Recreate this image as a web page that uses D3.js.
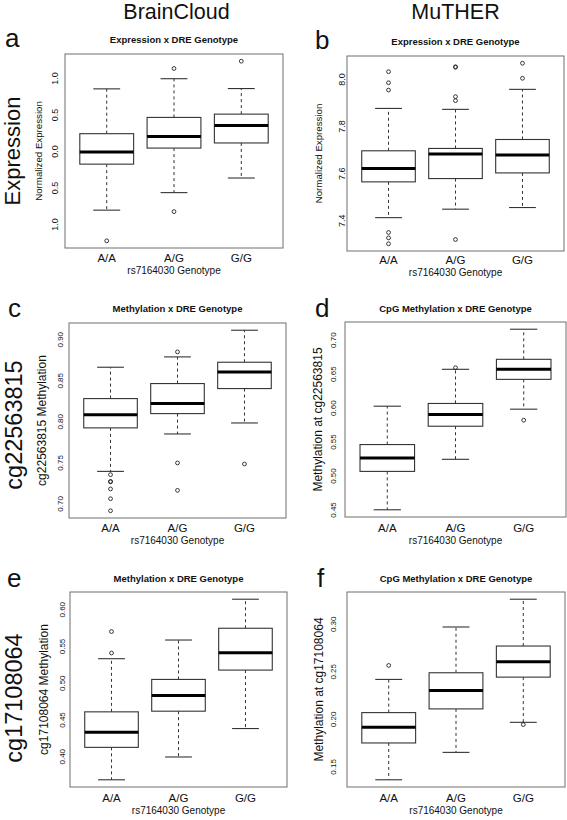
<!DOCTYPE html>
<html><head><meta charset="utf-8">
<script src="https://cdn.jsdelivr.net/npm/d3@7"></script>
<style>
body{margin:0;background:#fff}
svg{display:block}
text{font-family:"Liberation Sans",Arial,Helvetica,sans-serif;fill:#111}
</style>
</head><body>
<svg id="chart" width="567" height="820"></svg>
<script>
// ---------------- DATA ----------------
const categories = ["A/A", "A/G", "G/G"];
const columnHeaders = ["BrainCloud", "MuTHER"];
const rowHeaders = ["Expression", "cg22563815", "cg17108064"];
const panelLetters = ["a", "b", "c", "d", "e", "f"];
const panelTitles = ["Expression x DRE Genotype", "Expression x DRE Genotype",
  "Methylation x DRE Genotype", "CpG Methylation x DRE Genotype",
  "Methylation x DRE Genotype", "CpG Methylation x DRE Genotype"];
const yLabels = ["Normalized Expression", "Normalized Expression",
  "cg22563815 Methylation", "Methylation at cg22563815",
  "cg17108064 Methylation", "Methylation at cg17108064"];
const xLabel = "rs7164030 Genotype";

// box stats per genotype: [lower whisker, Q1, median, Q3, upper whisker]
const statsA = [[-0.81, -0.18, -0.014, 0.237, 0.851], [-0.57, 0.04, 0.20, 0.46, 0.99], [-0.37, 0.11, 0.35, 0.505, 0.855]];
const outliersA = [[-1.23], [1.13, -0.83], [1.23]];
const statsB = [[7.411, 7.563, 7.62, 7.695, 7.875], [7.447, 7.577, 7.681, 7.705, 7.871], [7.454, 7.601, 7.677, 7.743, 7.956]];
const outliersB = [[8.031, 7.984, 7.953, 7.348, 7.325, 7.30], [8.052, 8.050, 7.925, 7.908, 7.318], [8.067, 8.003]];
const statsC = [[0.739, 0.792, 0.808, 0.8277, 0.8659], [0.7846, 0.8094, 0.8216, 0.846, 0.8785], [0.798, 0.8399, 0.8602, 0.872, 0.911]];
const outliersC = [[0.735, 0.7268, 0.7262, 0.7176, 0.7057, 0.691], [0.8846, 0.7493, 0.7159], [0.748]];
const statsD = [[0.4496, 0.5061, 0.5258, 0.5456, 0.6021], [0.5239, 0.5726, 0.5899, 0.6061, 0.6564], [0.5977, 0.6416, 0.6564, 0.6711, 0.7154]];
const outliersD = [[], [0.6587], [0.5815]];
const statsE = [[0.368, 0.4121, 0.4326, 0.4604, 0.5327], [0.399, 0.4613, 0.4827, 0.5045, 0.5581], [0.4377, 0.5172, 0.5409, 0.5741, 0.6136]];
const outliersE = [[0.5696, 0.5404], [], []];
const statsF = [[0.136, 0.1747, 0.1911, 0.2066, 0.2415], [0.1648, 0.2105, 0.2299, 0.2485, 0.2966], [0.1964, 0.2439, 0.2601, 0.2766, 0.3258]];
const outliersF = [[0.2562], [], [0.194]];

// y tick values and their labels as printed in the figure
const ticksA = [-1, -0.5, 0, 0.5, 1];
const tickLabelsA = ["1.0", "0.5", "0.0", "0.5", "1.0"];
const ticksB = [7.4, 7.6, 7.8, 8.0];
const tickLabelsB = ["7.4", "7.6", "7.8", "8.0"];
const ticksC = [0.70, 0.75, 0.80, 0.85, 0.90];
const tickLabelsC = ["0.70", "0.75", "0.80", "0.85", "0.90"];
const ticksD = [0.45, 0.50, 0.55, 0.60, 0.65, 0.70];
const tickLabelsD = ["0.45", "0.50", "0.55", "0.60", "0.65", "0.70"];
const ticksE = [0.40, 0.45, 0.50, 0.55, 0.60];
const tickLabelsE = ["0.40", "0.45", "0.50", "0.55", "0.60"];
const ticksF = [0.15, 0.20, 0.25, 0.30];
const tickLabelsF = ["0.15", "0.20", "0.25", "0.30"];

// ---------------- LAYOUT ----------------
const layouts = [
  {L: 65, R: 283, T: 54, B: 248, titleY: 42.5, tickX: 55, ylabX: 39, catY: 261.5, xlabY: 273.5, letX: 5, letY: 46.5, tickFs: 9, ylabFs: 9.7},
  {L: 347, R: 564, T: 56, B: 251, titleY: 44.5, tickX: 341.5, ylabX: 319, catY: 263.5, xlabY: 275.5, letX: 315, letY: 49, tickFs: 9, ylabFs: 9.7},
  {L: 69, R: 286, T: 323, B: 518, titleY: 312, tickX: 60, ylabX: 42, catY: 531.5, xlabY: 543.5, letX: 8, letY: 316.7, tickFs: 8, ylabFs: 12},
  {L: 345, R: 566, T: 322, B: 517, titleY: 311.5, tickX: 333, ylabX: 318, catY: 531.5, xlabY: 543.5, letX: 315, letY: 316.7, tickFs: 8, ylabFs: 12},
  {L: 70, R: 287, T: 592, B: 787, titleY: 582, tickX: 61.7, ylabX: 44, catY: 801.5, xlabY: 813.5, letX: 7, letY: 586.7, tickFs: 8, ylabFs: 12},
  {L: 347, R: 565, T: 592, B: 787, titleY: 581.5, tickX: 333.5, ylabX: 318.3, catY: 801.5, xlabY: 813.5, letX: 317, letY: 586.7, tickFs: 8, ylabFs: 12}
];

const panels = [
  {stats: statsA, outliers: outliersA, ticks: ticksA, tickLabels: tickLabelsA},
  {stats: statsB, outliers: outliersB, ticks: ticksB, tickLabels: tickLabelsB},
  {stats: statsC, outliers: outliersC, ticks: ticksC, tickLabels: tickLabelsC},
  {stats: statsD, outliers: outliersD, ticks: ticksD, tickLabels: tickLabelsD},
  {stats: statsE, outliers: outliersE, ticks: ticksE, tickLabels: tickLabelsE},
  {stats: statsF, outliers: outliersF, ticks: ticksF, tickLabels: tickLabelsF}
];

const svg = d3.select("#chart");
const FONT = '"Liberation Sans",Arial,Helvetica,sans-serif';

// Column headers
[[176.5, columnHeaders[0]], [455.5, columnHeaders[1]]].forEach(([x, t]) => {
  svg.append("text").attr("x", x).attr("y", 18.5).attr("text-anchor", "middle")
    .style("font-size", "21.5px").text(t);
});
// Row headers (rotated)
[[151, rowHeaders[0], 22], [425, rowHeaders[1], 23.5], [698, rowHeaders[2], 23.5]].forEach(([y, t, fs]) => {
  svg.append("text").attr("transform", `translate(${0.93 * fs},${y}) rotate(-90)`)
    .attr("text-anchor", "middle").style("font-size", fs + "px").text(t);
});

panels.forEach((p, i) => {
  const lay = layouts[i];
  const g = svg.append("g");

  // y scale: data extent extended by 4% (R default)
  const allVals = p.stats.flat().concat(p.outliers.flat());
  const [mn, mx] = d3.extent(allVals);
  const pad = (mx - mn) * 0.04;
  const y = d3.scaleLinear().domain([mn - pad, mx + pad]).range([lay.B, lay.T]);

  // x: categories at 1..3, axis 0.38..3.62, box width 0.8
  const unit = (lay.R - lay.L) / 3.24;
  const x = d3.scaleBand().domain(categories)
    .range([lay.L + 0.12 * unit, lay.R - 0.12 * unit])
    .paddingInner(0.2).paddingOuter(0.1);
  const bw = x.bandwidth();

  // frame
  g.append("rect").attr("x", lay.L).attr("y", lay.T)
    .attr("width", lay.R - lay.L).attr("height", lay.B - lay.T)
    .attr("fill", "none").attr("stroke", "#6e6e6e").attr("stroke-width", 1);

  // boxes
  categories.forEach((c, k) => {
    const [lo, q1, med, q3, hi] = p.stats[k];
    const cx = x(c) + bw / 2;
    const bg = g.append("g");
    bg.append("line").attr("x1", cx).attr("x2", cx).attr("y1", y(q3)).attr("y2", y(hi))
      .attr("stroke", "#333").attr("stroke-width", 1).attr("stroke-dasharray", "3,3");
    bg.append("line").attr("x1", cx).attr("x2", cx).attr("y1", y(q1)).attr("y2", y(lo))
      .attr("stroke", "#333").attr("stroke-width", 1).attr("stroke-dasharray", "3,3");
    [lo, hi].forEach(v => {
      bg.append("line").attr("x1", cx - bw / 4).attr("x2", cx + bw / 4)
        .attr("y1", y(v)).attr("y2", y(v)).attr("stroke", "#333").attr("stroke-width", 1.1);
    });
    bg.append("rect").attr("x", x(c)).attr("y", y(q3)).attr("width", bw)
      .attr("height", y(q1) - y(q3)).attr("fill", "#fff").attr("stroke", "#333").attr("stroke-width", 1.1);
    bg.append("line").attr("x1", x(c)).attr("x2", x(c) + bw).attr("y1", y(med)).attr("y2", y(med))
      .attr("stroke", "#000").attr("stroke-width", 3);
    bg.selectAll("circle").data(p.outliers[k]).enter().append("circle")
      .attr("cx", cx).attr("cy", d => y(d)).attr("r", 1.9)
      .attr("fill", "none").attr("stroke", "#222").attr("stroke-width", 0.9);
  });

  // y axis (labels only, rotated)
  const yAxis = d3.axisLeft(y).tickValues(p.ticks).tickSize(0)
    .tickFormat((d, j) => p.tickLabels[j]);
  const ya = g.append("g").attr("transform", `translate(${lay.L},0)`).call(yAxis);
  ya.select(".domain").remove();
  const capH = 0.36 * lay.tickFs;
  ya.selectAll("text")
    .attr("x", null).attr("dy", null)
    .attr("transform", `translate(${-(lay.L - lay.tickX - capH)},0) rotate(-90)`)
    .attr("text-anchor", "middle")
    .style("font-family", FONT).style("font-size", lay.tickFs + "px").attr("fill", "#222");

  // x axis (category labels)
  const xAxis = d3.axisBottom(x).tickSize(0).tickPadding(0);
  const xa = g.append("g").attr("transform", `translate(0,${lay.catY})`).call(xAxis);
  xa.select(".domain").remove();
  xa.selectAll("text").attr("y", 0).attr("dy", null)
    .style("font-family", FONT).style("font-size", "11.5px").attr("fill", "#111");

  // title
  g.append("text").attr("x", (lay.L + lay.R) / 2).attr("y", lay.titleY)
    .attr("text-anchor", "middle").style("font-size", "9.5px").style("font-weight", "bold")
    .text(panelTitles[i]);
  // x label
  g.append("text").attr("x", (lay.L + lay.R) / 2).attr("y", lay.xlabY)
    .attr("text-anchor", "middle").style("font-size", "10px").text(xLabel);
  // y label
  const ylCap = 0.36 * lay.ylabFs;
  g.append("text").attr("transform", `translate(${lay.ylabX + ylCap},${(lay.T + lay.B) / 2}) rotate(-90)`)
    .attr("text-anchor", "middle").style("font-size", lay.ylabFs + "px").text(yLabels[i]);
  // panel letter
  g.append("text").attr("x", lay.letX).attr("y", lay.letY)
    .style("font-size", "26px").text(panelLetters[i]);
});
</script>
</body></html>
